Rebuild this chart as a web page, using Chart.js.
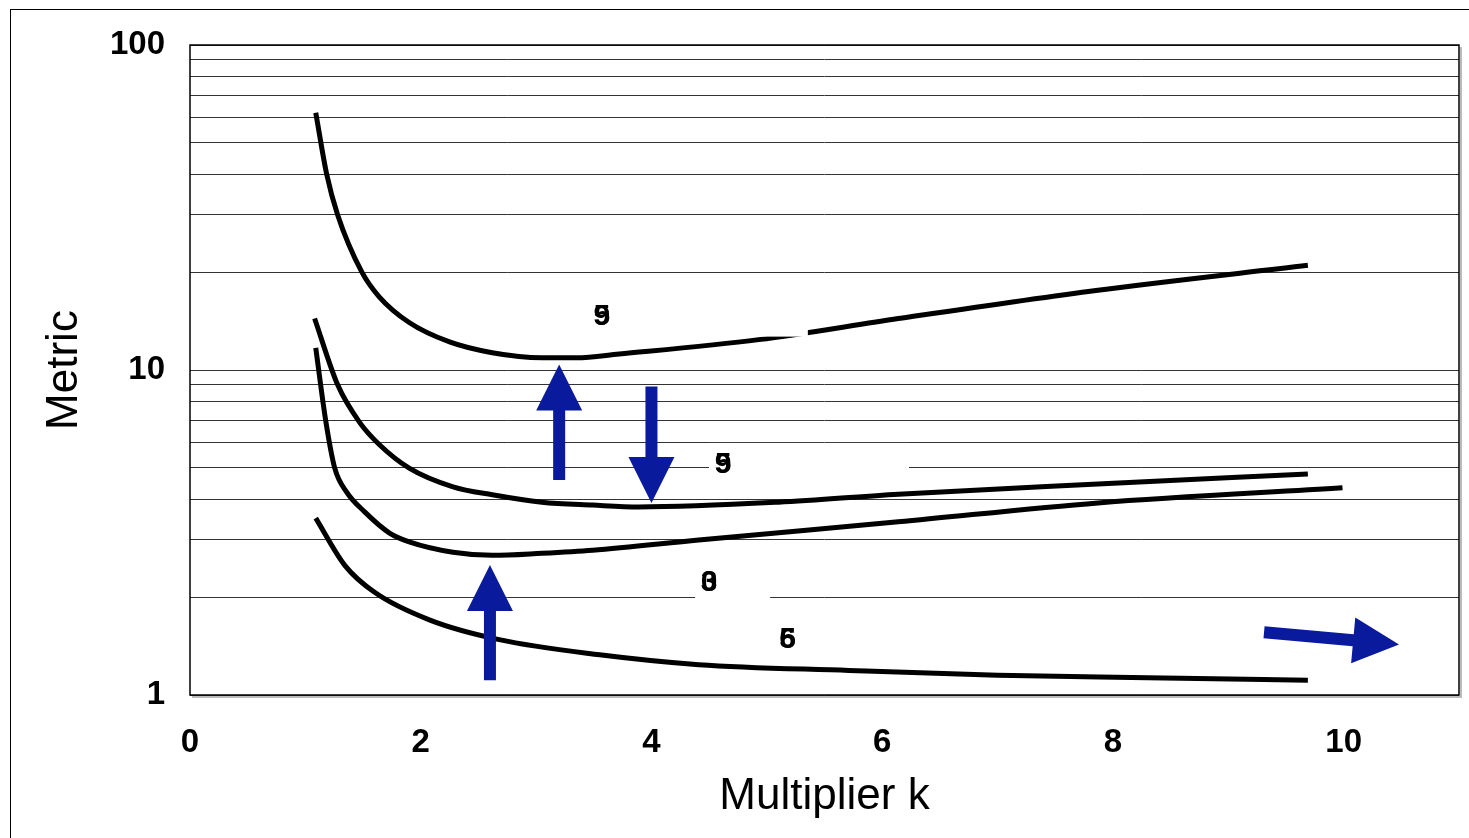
<!DOCTYPE html>
<html>
<head>
<meta charset="utf-8">
<script src="https://cdn.jsdelivr.net/npm/chart.js@4.4.0/dist/chart.umd.min.js"></script>
<style>
  html, body { margin: 0; padding: 0; background: #fff; }
  #wrap { width: 1469px; height: 838px; }
</style>
</head>
<body>
<div id="wrap"><canvas id="myChart" width="1469" height="838"></canvas></div>
<script>
// Ejes
const xTicks = [0, 2, 4, 6, 8, 10];
const yTicks = [1, 2, 3, 4, 5, 6, 7, 8, 9, 10, 20, 30, 40, 50, 60, 70, 80, 90, 100];
const yLabels = [1, 10, 100];

// Curvas
const curveAX = [1.09, 1.185, 1.28, 1.49, 1.64, 1.90, 2.25, 2.62, 3.05, 3.35, 3.72, 4.93, 6.14, 7.87, 9.69];
const curveAY = [61.9, 40, 30, 20, 16.8, 14.0, 12.2, 11.3, 10.9, 10.9, 11.2, 12.4, 14.4, 17.6, 21.0];
const curveBX = [1.08, 1.28, 1.47, 1.64, 1.90, 2.28, 2.62, 3.05, 3.49, 3.89, 5.1, 6.14, 7.87, 9.69];
const curveBY = [14.4, 9, 6.9, 5.9, 4.99, 4.37, 4.13, 3.92, 3.84, 3.79, 3.92, 4.15, 4.46, 4.79];
const curveCX = [1.09, 1.176, 1.254, 1.358, 1.514, 1.73, 1.90, 2.28, 2.62, 3.05, 3.49, 4.41, 6.14, 7.87, 9.99];
const curveCY = [11.7, 7.0, 5.0, 4.21, 3.66, 3.15, 2.96, 2.75, 2.69, 2.73, 2.79, 3.0, 3.41, 3.9, 4.34];
const curveDX = [1.09, 1.34, 1.6, 2.08, 2.68, 3.55, 4.41, 5.71, 7.0, 8.3, 9.69];
const curveDY = [3.5, 2.51, 2.07, 1.70, 1.48, 1.33, 1.24, 1.19, 1.15, 1.13, 1.11];

// Etiquetas (dos cifras superpuestas)
const labelX = [3.57, 4.62, 4.5, 5.18];
const labelY = [14.7, 5.14, 2.23, 1.49];
const labelText = [['5', '9'], ['5', '9'], ['3', '0'], ['6', '5']];

// Flechas
const arrowFromX = [3.2, 4.0, 2.6, 9.31];
const arrowFromY = [4.59, 8.9, 1.11, 1.56];
const arrowToX = [3.2, 4.0, 2.6, 10.48];
const arrowToY = [10.4, 3.9, 2.51, 1.43];

function toPoints(xs, ys) {
    return xs.map((x, i) => ({ x: x, y: ys[i] }));
}

function curve(xs, ys) {
    return {
        data: toPoints(xs, ys),
        borderColor: '#000',
        borderWidth: 5,
        pointRadius: 0,
        cubicInterpolationMode: 'monotone',
        fill: false
    };
}

const labelBoxW = [220, 200, 75, 75];
const arrowColor = '#0a1a9c';
const fontFamily = 'Arial, "Liberation Sans", sans-serif';

const decor = {
    id: 'decor',
    beforeDraw(chart) {
        const c = chart.ctx;
        c.save();
        c.fillStyle = '#fff';
        c.fillRect(0, 0, chart.width, chart.height);
        c.strokeStyle = '#000';
        c.lineWidth = 1;
        c.strokeRect(10.5, 9.5, chart.width + 20, chart.height + 20);
        c.restore();
    },
    afterDatasetsDraw(chart) {
        const c = chart.ctx;
        const xs = chart.scales.x, ys = chart.scales.y;
        const a = chart.chartArea;
        c.save();
        // borde del área
        c.strokeStyle = '#bbb';
        c.lineWidth = 2;
        c.beginPath();
        c.moveTo(a.left + 2, a.bottom + 2);
        c.lineTo(a.right + 2, a.bottom + 2);
        c.lineTo(a.right + 2, a.top + 2);
        c.stroke();
        c.strokeStyle = '#000';
        c.lineWidth = 1.5;
        c.strokeRect(a.left, a.top, a.right - a.left, a.bottom - a.top);

        // etiquetas con fondo blanco
        c.font = 'bold 30px ' + fontFamily;
        c.textAlign = 'center';
        c.textBaseline = 'middle';
        labelX.forEach((lx, i) => {
            const px = xs.getPixelForValue(lx), py = ys.getPixelForValue(labelY[i]);
            c.fillStyle = '#fff';
            c.fillRect(px - 14, py - 21, labelBoxW[i], 42);
            c.fillStyle = '#000';
            labelText[i].forEach(t => c.fillText(t, px, py + 1));
        });

        // flechas
        c.fillStyle = arrowColor;
        arrowFromX.forEach((fx, i) => {
            const x0 = xs.getPixelForValue(fx), y0 = ys.getPixelForValue(arrowFromY[i]);
            const x1 = xs.getPixelForValue(arrowToX[i]), y1 = ys.getPixelForValue(arrowToY[i]);
            const ang = Math.atan2(y1 - y0, x1 - x0);
            const len = Math.hypot(x1 - x0, y1 - y0);
            const headL = 46, headW = 23, shaft = 6;
            c.save();
            c.translate(x0, y0);
            c.rotate(ang);
            c.beginPath();
            c.moveTo(0, -shaft);
            c.lineTo(len - headL, -shaft);
            c.lineTo(len - headL, -headW);
            c.lineTo(len, 0);
            c.lineTo(len - headL, headW);
            c.lineTo(len - headL, shaft);
            c.lineTo(0, shaft);
            c.closePath();
            c.fill();
            c.restore();
        });
        c.restore();
    }
};

const ctx = document.getElementById('myChart').getContext('2d');
const myChart = new Chart(ctx, {
    type: 'line',
    data: {
        datasets: [
            curve(curveAX, curveAY),
            curve(curveBX, curveBY),
            curve(curveCX, curveCY),
            curve(curveDX, curveDY)
        ]
    },
    options: {
        responsive: false,
        animation: false,
        devicePixelRatio: 1,
        layout: {
            padding: { left: 0, top: 45, right: 10, bottom: 0 }
        },
        scales: {
            x: {
                type: 'linear',
                min: 0,
                max: 11,
                afterBuildTicks: function (s) {
                    s.ticks = xTicks.map(v => ({ value: v }));
                },
                afterFit: function (s) { s.height = 143; },
                grid: { display: false },
                border: { display: false },
                ticks: {
                    autoSkip: false,
                    maxRotation: 0,
                    padding: 20,
                    color: '#000',
                    font: { family: fontFamily, size: 33, weight: 'bold' }
                },
                title: {
                    display: true,
                    text: 'Multiplier k',
                    color: '#000',
                    padding: { top: 0, bottom: 15 },
                    font: { family: fontFamily, size: 44 }
                }
            },
            y: {
                type: 'logarithmic',
                min: 1,
                max: 100,
                afterBuildTicks: function (s) {
                    s.ticks = yTicks.map(v => ({ value: v }));
                },
                afterFit: function (s) { s.width = 190; },
                grid: {
                    color: '#333',
                    lineWidth: 1,
                    drawTicks: false
                },
                border: { display: false },
                ticks: {
                    autoSkip: false,
                    padding: 25,
                    color: '#000',
                    font: { family: fontFamily, size: 33, weight: 'bold' },
                    callback: function (value) {
                        return yLabels.includes(value) ? String(value) : '';
                    }
                },
                title: {
                    display: true,
                    text: 'Metric',
                    color: '#000',
                    padding: { top: 38, bottom: 0 },
                    font: { family: fontFamily, size: 44 }
                }
            }
        },
        plugins: {
            legend: { display: false },
            tooltip: { enabled: false }
        }
    },
    plugins: [decor]
});
</script>
</body>
</html>
